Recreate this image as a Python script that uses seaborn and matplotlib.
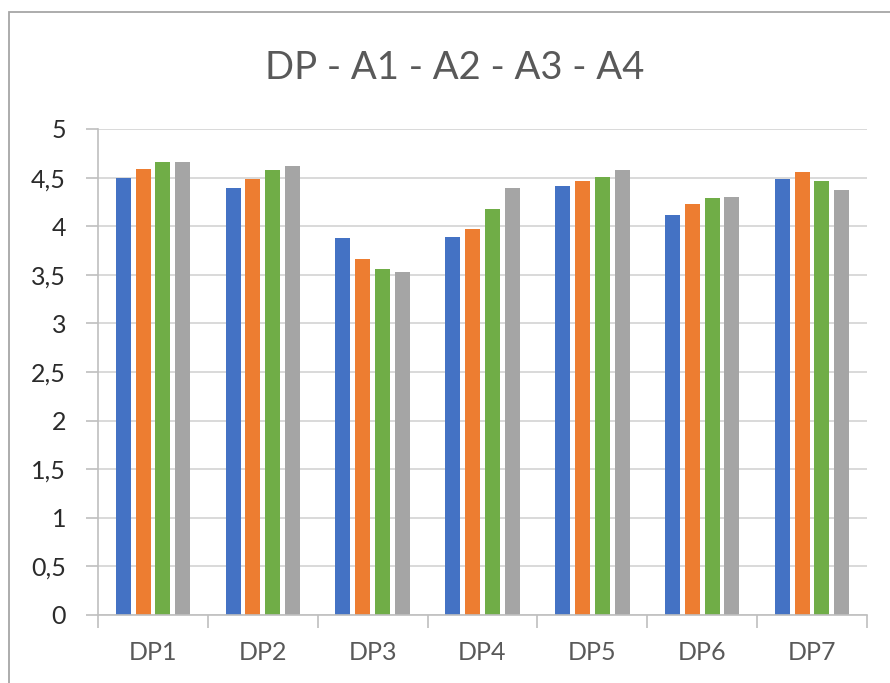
import matplotlib
matplotlib.use("Agg")
import matplotlib.pyplot as plt
import matplotlib.patches as mpatches
import seaborn as sns
import pandas as pd
import numpy as np

categories = ["DP1", "DP2", "DP3", "DP4", "DP5", "DP6", "DP7"]
series_names = ["A1", "A2", "A3", "A4"]
a1 = [4.50, 4.39, 3.88, 3.89, 4.41, 4.12, 4.49]
a2 = [4.59, 4.49, 3.66, 3.97, 4.46, 4.23, 4.56]
a3 = [4.66, 4.58, 3.56, 4.18, 4.51, 4.29, 4.46]
a4 = [4.66, 4.62, 3.53, 4.39, 4.58, 4.30, 4.37]
yticks = [0, 0.5, 1, 1.5, 2, 2.5, 3, 3.5, 4, 4.5, 5]
ytick_labels = ["0", "0,5", "1", "1,5", "2", "2,5", "3", "3,5", "4", "4,5", "5"]
title = "DP - A1 - A2 - A3 - A4"
colors = ["#4472C4", "#ED7D31", "#70AD47", "#A5A5A5"]

rows = []
for name, vals in zip(series_names, [a1, a2, a3, a4]):
    for c, v in zip(categories, vals):
        rows.append({"cat": c, "series": name, "val": v})
df = pd.DataFrame(rows)

sns.set_theme(style="white")
plt.rcParams["font.family"] = ["Lato", "DejaVu Sans"]

W, H = 890, 683
fig = plt.figure(figsize=(W / 100, H / 100), dpi=100)
ax = fig.add_axes([98 / W, 1 - 615 / H, (867 - 98) / W, (615 - 129) / H])

sns.barplot(data=df, x="cat", y="val", hue="series", palette=colors,
            width=0.72, linewidth=0, ax=ax,
            errorbar=None, legend=False, saturation=1)

# leave a small white gap between neighbouring bars, as in the reference
for p in ax.patches:
    w = p.get_width()
    p.set_x(p.get_x() + w * 0.12)
    p.set_width(w * 0.76)

ax.set_ylim(0, 5)
ax.set_xlim(-0.5, len(categories) - 0.5)
ax.set_yticks(yticks)
ax.set_yticklabels(ytick_labels)
ax.yaxis.grid(True, color="#d9d9d9", linewidth=1.4)
ax.set_axisbelow(True)
ax.set_xlabel("")
ax.set_ylabel("")

ax.set_xticks(range(len(categories)))
ax.set_xticklabels(categories)
ax.set_xticks(np.arange(-0.5, len(categories), 1.0), minor=True)
ax.tick_params(axis="x", which="major", length=0, pad=19, labelsize=18, labelcolor="#595959")
ax.tick_params(axis="x", which="minor", length=9, width=1.2, color="#bfbfbf", direction="out", bottom=True)
ax.tick_params(axis="y", length=9, width=1.2, color="#bfbfbf", pad=14, labelsize=18, labelcolor="#2b2b2b", left=True)

for s in ["top", "right"]:
    ax.spines[s].set_visible(False)
for s in ["left", "bottom"]:
    ax.spines[s].set_color("#bfbfbf")
    ax.spines[s].set_linewidth(1.2)

fig.text(455 / W, 1 - 68 / H, title, ha="center", va="center", fontsize=27.5, color="#595959")

border = mpatches.Rectangle((9 / W, -0.1), 1.2, 1 - 12 / H + 0.1, transform=fig.transFigure,
                            fill=False, edgecolor="#a6a6a6", linewidth=1.3)
fig.patches.append(border)

fig.savefig("out.png", dpi=100)
